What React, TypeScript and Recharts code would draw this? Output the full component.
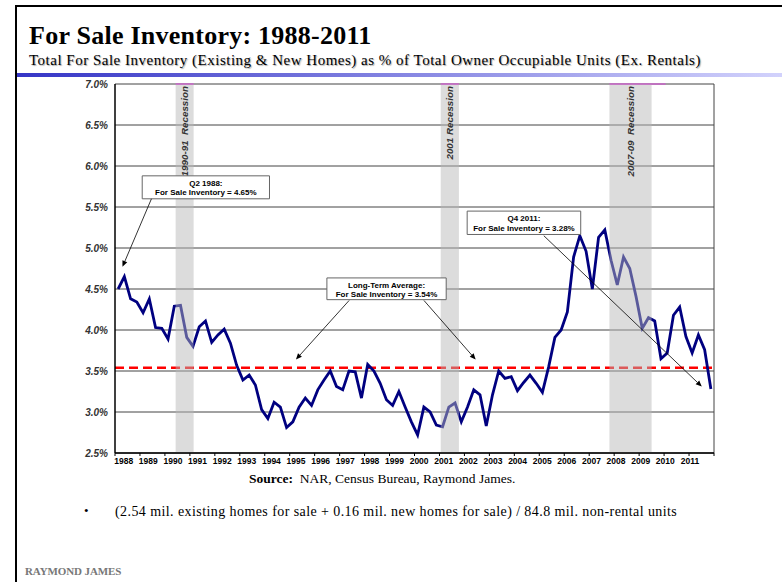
import {
  LineChart,
  Line,
  XAxis,
  YAxis,
  CartesianGrid,
  ReferenceArea,
  ReferenceLine,
} from 'recharts';

// quarterly, Q1 1988 .. Q4 2011 (% of owner occupiable units)
const years = [
  1988, 1989, 1990, 1991, 1992, 1993, 1994, 1995, 1996, 1997, 1998, 1999,
  2000, 2001, 2002, 2003, 2004, 2005, 2006, 2007, 2008, 2009, 2010, 2011,
];

const inventory = [
  4.5, 4.65, 4.38, 4.34, 4.21, 4.38, 4.03, 4.02, 3.89, 4.29, 4.3, 3.91,
  3.8, 4.04, 4.11, 3.85, 3.94, 4.01, 3.84, 3.57, 3.39, 3.45, 3.33, 3.03,
  2.92, 3.12, 3.06, 2.81, 2.88, 3.06, 3.17, 3.08, 3.27, 3.39, 3.5, 3.31,
  3.27, 3.5, 3.49, 3.17, 3.58, 3.5, 3.35, 3.15, 3.08, 3.25, 3.06, 2.88,
  2.72, 3.06, 3.0, 2.84, 2.82, 3.06, 3.11, 2.88, 3.06, 3.27, 3.21, 2.83,
  3.21, 3.5, 3.41, 3.43, 3.26, 3.36, 3.45, 3.35, 3.24, 3.55, 3.91, 4.0,
  4.22, 4.89, 5.15, 4.96, 4.5, 5.13, 5.22, 4.85, 4.55, 4.89, 4.75, 4.41,
  4.02, 4.15, 4.11, 3.65, 3.72, 4.18, 4.28, 3.92, 3.72, 3.94, 3.76, 3.28,
];

const yTicks = [2.5, 3, 3.5, 4, 4.5, 5, 5.5, 6, 6.5, 7];

const longTermAvg = 3.54;

const recessionNames = ['1990-91  Recession', '2001 Recession', '2007-09  Recession'];
const recessionStart = [1990.43, 2001.05, 2007.81];
const recessionEnd = [1991.15, 2001.78, 2009.5];

const peakNote = ['Q2 1988:', 'For Sale Inventory = 4.65%'];
const avgNote = ['Long-Term Average:', 'For Sale Inventory = 3.54%'];
const lastNote = ['Q4 2011:', 'For Sale Inventory = 3.28%'];

const chartData = inventory.map((v, i) => ({ t: years[0] + (i + 0.5) / 4, value: v }));
const yearTicks = [...years, years[years.length - 1] + 1];

// where the call-out boxes and their arrows sit (chart units)
const notes = [
  { lines: peakNote, box: [1989.09, 1994.19, 5.6, 5.88], arrows: [[1989.46, 5.6, 1988.3, 4.77]] },
  {
    lines: avgNote,
    box: [1996.49, 2001.27, 4.37, 4.635],
    arrows: [
      [1997.38, 4.36, 1995.25, 3.64],
      [2000.38, 4.36, 2002.45, 3.64],
    ],
  },
  { lines: lastNote, box: [2002.11, 2006.66, 5.165, 5.45], arrows: [[2005.18, 5.15, 2011.51, 3.31]] },
];

const sans = '"Liberation Sans", Arial, sans-serif';
const serif = '"Liberation Serif", "Times New Roman", serif';

const YearTick = (p: any) => {
  const { x, y, payload, index } = p;
  if (payload.value > years[years.length - 1]) return <g />;
  return (
    <text
      x={x + 8.7 - 0.34 * index}
      y={y}
      dy="0.71em"
      textAnchor="middle"
      fontFamily={sans}
      fontSize={8.5}
      fontWeight={700}
      fill="#000"
    >
      {payload.value}
    </text>
  );
};

const Arrow = (p: any) => {
  const { x1, y1, x2, y2 } = p;
  const a = Math.atan2(y2 - y1, x2 - x1);
  const len = 6;
  const w = 2.6;
  const bx = x2 - len * Math.cos(a);
  const by = y2 - len * Math.sin(a);
  const pts = `${x2},${y2} ${bx + w * Math.sin(a)},${by - w * Math.cos(a)} ${bx - w * Math.sin(a)},${by + w * Math.cos(a)}`;
  return (
    <g>
      <line x1={x1} y1={y1} x2={bx} y2={by} stroke="#000" strokeWidth={0.8} />
      <polygon points={pts} fill="#000" />
    </g>
  );
};

const NoteText = ({ viewBox, lines }: any) => {
  const { x, y, width } = viewBox;
  return (
    <text fontFamily={sans} fontSize={8} fontWeight={700} fill="#000" textAnchor="middle">
      <tspan x={x + width / 2} y={y + 9.8}>{lines[0]}</tspan>
      <tspan x={x + width / 2} y={y + 19.5}>{lines[1]}</tspan>
    </text>
  );
};

const BandText = ({ viewBox, text }: any) => {
  const { x, y, width } = viewBox;
  const cx = x + width / 2 + 3.4;
  const cy = y + 2;
  return (
    <text
      x={cx}
      y={cy}
      transform={`rotate(-90 ${cx} ${cy})`}
      textAnchor="end"
      fontFamily={sans}
      fontSize={9.8}
      fontWeight={700}
      fontStyle="italic"
      fill="#333"
      style={{ whiteSpace: 'pre' }}
    >
      {text}
    </text>
  );
};

export default function App() {
  return (
    <div style={{ position: 'absolute', left: 0, top: 0, width: 782, height: 582, background: '#fff', overflow: 'hidden' }}>
      {/* slide frame */}
      <div style={{ position: 'absolute', left: 15, top: 5, width: 767, height: 2, background: '#000' }} />
      <div style={{ position: 'absolute', left: 15, top: 5, width: 2, height: 577, background: '#000' }} />
      <div
        style={{
          position: 'absolute',
          left: 17,
          top: 73,
          width: 765,
          height: 4,
          background: 'linear-gradient(to right, #3535c6, #8585e2 50%, #d2d2fc)',
        }}
      />
      <div
        style={{
          position: 'absolute',
          left: 29,
          top: 23,
          fontFamily: serif,
          fontSize: 26,
          lineHeight: 1,
          fontWeight: 700,
          letterSpacing: 0.25,
          color: '#000',
          whiteSpace: 'nowrap',
        }}
      >
        For Sale Inventory: 1988-2011
      </div>
      <div
        style={{
          position: 'absolute',
          left: 29,
          top: 52.5,
          fontFamily: serif,
          fontSize: 15,
          lineHeight: 1,
          letterSpacing: 0.5,
          color: '#000',
          whiteSpace: 'nowrap',
          textShadow: '1px 1px 1px #aaa',
        }}
      >
        Total For Sale Inventory (Existing &amp; New Homes) as % of Total Owner Occupiable Units (Ex. Rentals)
      </div>

      <div style={{ position: 'absolute', left: 0, top: 0 }}>
        <LineChart width={782} height={480} data={chartData} margin={{ top: 84, right: 68, bottom: 7, left: 0 }}>
          <CartesianGrid horizontal vertical={false} stroke="#444" strokeWidth={1} />
          <XAxis
            dataKey="t"
            type="number"
            domain={[years[0], years[years.length - 1] + 1]}
            ticks={yearTicks}
            interval={0}
            height={20}
            axisLine={{ stroke: '#000', strokeWidth: 1.5 }}
            tickLine={{ stroke: '#000' }}
            tickSize={3}
            tickMargin={2}
            tick={<YearTick />}
          />
          <YAxis
            type="number"
            domain={[2.5, 7]}
            ticks={yTicks}
            interval={0}
            width={115}
            axisLine={{ stroke: '#000', strokeWidth: 1.5 }}
            tickLine={false}
            tickSize={3}
            tickMargin={4}
            tickFormatter={(v: number) => `${v.toFixed(1)}%`}
            tick={{ fontFamily: sans, fontSize: 10, fontWeight: 700, fontStyle: 'italic', fill: '#333' }}
          />
          <ReferenceLine y={longTermAvg} stroke="#ff0000" strokeWidth={2.6} strokeDasharray="9 5" />
          <Line
            dataKey="value"
            type="linear"
            stroke="#000080"
            strokeWidth={2.8}
            dot={false}
            isAnimationActive={false}
          />
          {recessionNames.map((name, i) => (
            <ReferenceArea
              key={name}
              x1={recessionStart[i]}
              x2={recessionEnd[i]}
              y1={2.5}
              y2={7}
              fill="#b8b8b8"
              fillOpacity={0.49}
              stroke="none"
              zIndex={450}
              label={(p: any) => <BandText viewBox={p.viewBox} text={name} />}
            />
          ))}
          {recessionNames.map((name, i) => (
            <ReferenceLine
              key={`top-${name}`}
              segment={[
                { x: recessionStart[i], y: 7 },
                { x: i === 2 ? 2010.06 : recessionEnd[i], y: 7 },
              ]}
              stroke="#dd44dd"
              strokeWidth={1}
              zIndex={455}
            />
          ))}
          <ReferenceLine x={years[years.length - 1] + 1} stroke="#444" strokeWidth={1} />
          {notes.map((n) => (
            <ReferenceArea
              key={n.lines[1]}
              x1={n.box[0]}
              x2={n.box[1]}
              y1={n.box[2]}
              y2={n.box[3]}
              fill="#fff"
              fillOpacity={1}
              stroke="#666"
              strokeWidth={1}
              zIndex={460}
              label={(p: any) => <NoteText viewBox={p.viewBox} lines={n.lines} />}
            />
          ))}
          {notes.flatMap((n) =>
            n.arrows.map((a, j) => (
              <ReferenceLine
                key={`${n.lines[1]}-${j}`}
                segment={[
                  { x: a[0], y: a[1] },
                  { x: a[2], y: a[3] },
                ]}
                stroke="#000"
                zIndex={470}
                shape={(p: any) => <Arrow {...p} />}
              />
            )),
          )}
        </LineChart>
      </div>

      <div
        style={{
          position: 'absolute',
          left: 249,
          top: 472,
          fontFamily: serif,
          fontSize: 13.5,
          lineHeight: 1,
          color: '#000',
          whiteSpace: 'pre',
        }}
      >
        <b>Source:</b>  NAR, Census Bureau, Raymond James.
      </div>
      <div style={{ position: 'absolute', left: 84, top: 504, fontFamily: serif, fontSize: 13, lineHeight: 1 }}>•</div>
      <div
        style={{
          position: 'absolute',
          left: 115,
          top: 504.5,
          fontFamily: serif,
          fontSize: 14,
          lineHeight: 1,
          letterSpacing: 0.42,
          color: '#000',
          whiteSpace: 'nowrap',
        }}
      >
        (2.54 mil. existing homes for sale + 0.16 mil. new homes for sale) / 84.8 mil. non-rental units
      </div>
      <div
        style={{
          position: 'absolute',
          left: 25,
          top: 566,
          fontFamily: serif,
          fontSize: 11,
          lineHeight: 1,
          fontWeight: 700,
          color: '#777',
          letterSpacing: -0.1,
          whiteSpace: 'nowrap',
        }}
      >
        RAYMOND JAMES
      </div>
    </div>
  );
}
